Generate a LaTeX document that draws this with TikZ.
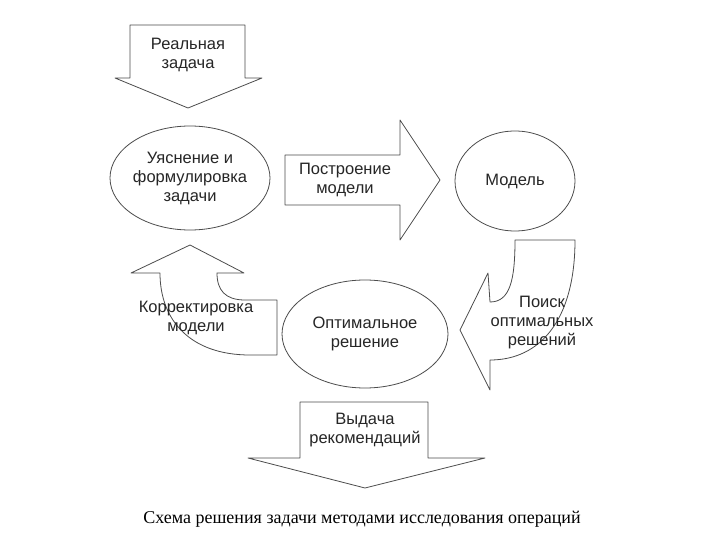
\documentclass[tikz,border=0pt]{standalone}
\usepackage{fontspec}
\setmainfont{Liberation Sans}
\newfontfamily\capfont{Liberation Serif}
\begin{document}
\begin{tikzpicture}[x=1pt,y=-1pt,
  sh/.style={draw=black!70,line width=0.8pt,fill=white,line join=round},
  lbl/.style={font=\fontsize{16.5}{19}\selectfont,align=center,text=black!85}]
\useasboundingbox (0,0) rectangle (720,540);
% top arrow
\draw[sh] (130,25) -- (245,25) -- (245,78) -- (262,78) -- (188,108) -- (115,78) -- (130,78) -- cycle;
\node[lbl] (t1) at (188,55) {Реальная\\задача};
% ellipse 1
\draw[sh] (190,178) ellipse [x radius=80,y radius=52];
\node[lbl] (e1) at (190,178) {Уяснение и\\формулировка\\задачи};
% right arrow
\draw[sh] (285,155) -- (400,155) -- (400,120) -- (440,180) -- (400,240) -- (400,205) -- (285,205) -- cycle;
\node[lbl] (a2) at (345,180) {Построение\\модели};
% ellipse 2
\draw[sh] (515,181) ellipse [x radius=60,y radius=50];
\node[lbl] (e2) at (515,181) {Модель};
% right curved arrow
\draw[sh] (515,240) -- (575,240) .. controls (575,320) and (540,360) .. (490,360)
  -- (490,390) -- (460,330) -- (488,273) -- (490,302) .. controls (510,302) and (515,280) .. cycle;
\node[lbl] (a3) at (542,323) {Поиск\\оптимальных\\решений};
% ellipse 3
\draw[sh] (365,334) ellipse [x radius=83,y radius=54];
\node[lbl] (e3) at (365,334) {Оптимальное\\решение};
% left curved arrow
\draw[sh] (277,300) -- (277,355) -- (250,355) .. controls (190,355) and (160,320) .. (160,273)
  -- (131,273) -- (190,245) -- (244,273) -- (217,273) .. controls (217,290) and (225,300) .. (245,300) -- cycle;
\node[lbl] (a4) at (196,318) {Корректировка\\модели};
% bottom arrow
\draw[sh] (300,402) -- (428,402) -- (428,458) -- (485,458) -- (365,488) -- (248,458) -- (300,458) -- cycle;
\node[lbl] (a5) at (365,430) {Выдача\\рекомендаций};
\node[font=\capfont\fontsize{18}{20}\selectfont] (cap) at (362,519) {Схема решения задачи методами исследования операций};
\end{tikzpicture}
\end{document}
